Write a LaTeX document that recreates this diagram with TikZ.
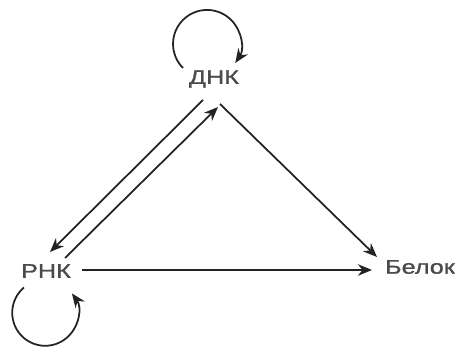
\documentclass[tikz,border=0pt]{standalone}
\usepackage{fontspec}
\usepackage{xcolor}
\usepackage{tikz}
\usetikzlibrary{arrows.meta, positioning}
\newfontfamily\molfont{Liberation Sans}[FakeStretch=1.28, FakeBold=1.2]
\definecolor{dogmaline}{RGB}{35, 35, 35}
\definecolor{dogmatext}{RGB}{75, 75, 75}

\begin{document}
\begin{tikzpicture}[
    every node/.style = {font=\molfont\fontsize{11.2}{13}\selectfont\color{dogmatext}},
    molecule/.style = {inner sep=2pt, anchor=center},
    arr/.style = {-{Stealth[length=8pt, width=6.5pt]}, dogmaline, line width=1pt},
    thickarr/.style = {arr, line width=1.3pt},
]
\useasboundingbox (0,0) rectangle (9.12,6.96);

% Molecules
\node[molecule] (dna)     at (4.28,5.38) {ДНК};
\node[molecule] (rna)     at (0.92,1.54) {РНК};
\node[molecule] (protein) at (8.40,1.62) {Белок};

% Self loops
\draw[arr] ([shift={(-0.62,0.22)}]dna.center)
    arc[start angle=225, end angle=-34, radius=0.68];
\draw[arr] ([shift={(-0.44,-0.33)}]rna.center)
    arc[start angle=130, end angle=396, radius=0.66];

% Transfers
\draw[arr] ([shift={(-0.22,-0.42)}]dna.center) -- ([shift={(0.08,0.38)}]rna.center);
\draw[arr] ([shift={(0.38,0.26)}]rna.center)   -- ([shift={(0.08,-0.56)}]dna.center);
\draw[arr] ([shift={(0.12,-0.50)}]dna.center)  -- ([shift={(-0.86,0.20)}]protein.center);
\draw[thickarr] ([shift={(0.72,0.02)}]rna.center) -- ([shift={(-0.96,-0.06)}]protein.center);

\end{tikzpicture}
\end{document}
